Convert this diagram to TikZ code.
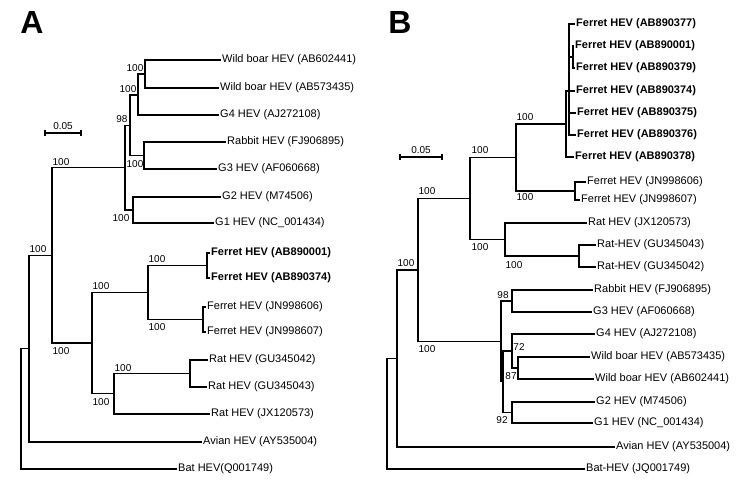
\documentclass[tikz,border=0pt]{standalone}
\usepackage{fontspec}
\setmainfont{Liberation Sans}
\begin{document}
\begin{tikzpicture}[x=1pt,y=-1pt,
  br/.style={line width=1.3pt, line cap=rect},
  tip/.style={anchor=west, inner sep=0pt, inner xsep=1.5pt, font=\fontsize{11}{13}\selectfont},
  tipb/.style={tip, font=\fontsize{11}{13}\selectfont\bfseries},
  bs/.style={inner sep=0pt, font=\fontsize{10}{12}\selectfont},
  panel/.style={inner sep=0pt, font=\fontsize{32}{32}\selectfont\bfseries}]
\useasboundingbox (0,0) rectangle (750,499);

% ---------------- Panel A ----------------
\node[panel] (pA) at (32,22) {A};
\coordinate (sa1) at (45,133); \coordinate (sa2) at (81,133);
\draw[line width=1.1pt] (sa1) -- (sa2);
\draw[line width=1.1pt] ([yshift=3pt]sa1) -- ([yshift=-3pt]sa1);
\draw[line width=1.1pt] ([yshift=3pt]sa2) -- ([yshift=-3pt]sa2);
\node[bs] (sla) at (63,126) {0.05};

\node[tip] (awb1) at (220.5,60) {Wild boar HEV (AB602441)};
\node[tip] (awb2) at (218.5,88) {Wild boar HEV (AB573435)};
\node[tip] (ag4) at (218.5,115) {G4 HEV (AJ272108)};
\node[tip] (arab) at (225.5,142) {Rabbit HEV (FJ906895)};
\node[tip] (ag3) at (216.5,169) {G3 HEV (AF060668)};
\node[tip] (ag2) at (220.5,197) {G2 HEV (M74506)};
\node[tip] (ag1) at (213.5,223) {G1 HEV (NC\_001434)};
\node[tipb] (afb1) at (209.5,253) {Ferret HEV (AB890001)};
\node[tipb] (afb2) at (209.5,278) {Ferret HEV (AB890374)};
\node[tip] (afj1) at (205.5,307) {Ferret HEV (JN998606)};
\node[tip] (afj2) at (205.5,332) {Ferret HEV (JN998607)};
\node[tip] (arg1) at (207.5,360) {Rat HEV (GU345042)};
\node[tip] (arg2) at (206.5,387) {Rat HEV (GU345043)};
\node[tip] (arjx) at (209.5,414) {Rat HEV (JX120573)};
\node[tip] (aav) at (201.5,442) {Avian HEV (AY535004)};
\node[tip] (abat) at (176.5,469) {Bat HEV(Q001749)};

\coordinate (a145) at (145,74);
\coordinate (a138) at (138,95);
\coordinate (a144) at (144,155.5);
\coordinate (a130) at (130,125.25);
\coordinate (a133) at (133,210);
\coordinate (a125) at (125,167.6);
\coordinate (a207) at (207,265.5);
\coordinate (a203) at (203,319.5);
\coordinate (a148) at (148,292.5);
\coordinate (a190) at (190,373.5);
\coordinate (a114) at (114,393.75);
\coordinate (a92) at (92,343.1);
\coordinate (a52) at (52,255.4);
\coordinate (a29) at (29,348.7);
\coordinate (a21) at (21,408.85);

\draw[br] (awb1.west) -| (a145) |- (awb2.west);
\draw[br] (a145) -| (a138) |- (ag4.west);
\draw[br] (arab.west) -| (a144) |- (ag3.west);
\draw[br] (a138) -| (a130) |- (a144);
\draw[br] (ag2.west) -| (a133) |- (ag1.west);
\draw[br] (a130) -| (a125) |- (a133);
\draw[br] (afb1.west) -| (a207) |- (afb2.west);
\draw[br] (afj1.west) -| (a203) |- (afj2.west);
\draw[br] (a207) -| (a148) |- (a203);
\draw[br] (arg1.west) -| (a190) |- (arg2.west);
\draw[br] (a190) -| (a114) |- (arjx.west);
\draw[br] (a148) -| (a92) |- (a114);
\draw[br] (a125) -| (a52) |- (a92);
\draw[br] (a52) -| (a29) |- (aav.west);
\draw[br] (a29) -| (a21) |- (abat.west);

\node[bs] (la1) at (135,68) {100};
\node[bs] (la2) at (128,89) {100};
\node[bs] (la3) at (122,119) {98};
\node[bs] (la4) at (135,164) {100};
\node[bs] (la5) at (121,218) {100};
\node[bs] (la6) at (61,162) {100};
\node[bs] (la7) at (38,249) {100};
\node[bs] (la8) at (61,351) {100};
\node[bs] (la9) at (101,286) {100};
\node[bs] (la10) at (157,259) {100};
\node[bs] (la11) at (157,327) {100};
\node[bs] (la12) at (123,368) {100};
\node[bs] (la13) at (101,402) {100};

% ---------------- Panel B ----------------
\node[panel] (pB) at (400,22) {B};
\coordinate (sb1) at (400,157); \coordinate (sb2) at (442,157);
\draw[line width=1.1pt] (sb1) -- (sb2);
\draw[line width=1.1pt] ([yshift=3pt]sb1) -- ([yshift=-3pt]sb1);
\draw[line width=1.1pt] ([yshift=3pt]sb2) -- ([yshift=-3pt]sb2);
\node[bs] (slb) at (421,150) {0.05};

\node[tipb] (bf377) at (574.5,24) {Ferret HEV (AB890377)};
\node[tipb] (bf001) at (573.5,46) {Ferret HEV (AB890001)};
\node[tipb] (bf379) at (574.5,68) {Ferret HEV (AB890379)};
\node[tipb] (bf374) at (574.5,91) {Ferret HEV (AB890374)};
\node[tipb] (bf375) at (575.5,113) {Ferret HEV (AB890375)};
\node[tipb] (bf376) at (575.5,135) {Ferret HEV (AB890376)};
\node[tipb] (bf378) at (573.5,157) {Ferret HEV (AB890378)};
\node[tip] (bjn1) at (585.5,182) {Ferret HEV (JN998606)};
\node[tip] (bjn2) at (579.5,200) {Ferret HEV (JN998607)};
\node[tip] (brjx) at (586.5,223) {Rat HEV (JX120573)};
\node[tip] (brg3) at (595.5,245) {Rat-HEV (GU345043)};
\node[tip] (brg2) at (595.5,267) {Rat-HEV (GU345042)};
\node[tip] (brab) at (592.5,290) {Rabbit HEV (FJ906895)};
\node[tip] (bg3) at (591.5,312) {G3 HEV (AF060668)};
\node[tip] (bg4) at (594.5,334) {G4 HEV (AJ272108)};
\node[tip] (bwb1) at (589.5,357) {Wild boar HEV (AB573435)};
\node[tip] (bwb2) at (593.5,379) {Wild boar HEV (AB602441)};
\node[tip] (bg2) at (594.5,402) {G2 HEV (M74506)};
\node[tip] (bg1) at (592.5,423) {G1 HEV (NC\_001434)};
\node[tip] (bav) at (614.5,447) {Avian HEV (AY535004)};
\node[tip] (bbat) at (584.5,469) {Bat-HEV (JQ001749)};

\coordinate (bF2) at (573,57);
\coordinate (bF1) at (569,91);
\coordinate (bF0) at (566,124);
\coordinate (bJN) at (575,191);
\coordinate (b516) at (516,157.5);
\coordinate (b579) at (579,256);
\coordinate (b505) at (505,239.5);
\coordinate (b470) at (470,198.5);
\coordinate (b512a) at (512,301);
\coordinate (b518) at (518,368);
\coordinate (b512b) at (512,351);
\coordinate (b512c) at (512,412.5);
\coordinate (b503) at (503,381.75);
\coordinate (b501) at (501,341.4);
\coordinate (b418) at (418,269.95);
\coordinate (b397) at (397,358.5);
\coordinate (b387) at (387,413.75);

\draw[br] (bf001.west) -| (bF2) |- (bf379.west);
\draw[br] (bf377.west) -| (bF1) |- (bf376.west);
\draw[br] (bF1) |- (bF2);
\draw[br] (bF1) |- (bf374.west);
\draw[br] (bF1) |- (bf375.west);
\draw[br] (bF1) -| (bF0) |- (bf378.west);
\draw[br] (bjn1.west) -| (bJN) |- (bjn2.west);
\draw[br] (bF0) -| (b516) |- (bJN);
\draw[br] (brg3.west) -| (b579) |- (brg2.west);
\draw[br] (brjx.west) -| (b505) |- (b579);
\draw[br] (b516) -| (b470) |- (b505);
\draw[br] (brab.west) -| (b512a) |- (bg3.west);
\draw[br] (bwb1.west) -| (b518) |- (bwb2.west);
\draw[br] (bg4.west) -| (b512b) |- (b518);
\draw[br] (bg2.west) -| (b512c) |- (bg1.west);
\draw[br] (b512b) -| (b503) |- (b512c);
\draw[br] (b512a) -| (b501) |- (b503);
\draw[br] (b470) -| (b418) |- (b501);
\draw[br] (b418) -| (b397) |- (bav.west);
\draw[br] (b397) -| (b387) |- (bbat.west);

\node[bs] (lb1) at (406,263) {100};
\node[bs] (lb2) at (427,191) {100};
\node[bs] (lb3) at (427,349) {100};
\node[bs] (lb4) at (480,150) {100};
\node[bs] (lb5) at (480,247) {100};
\node[bs] (lb6) at (525,117) {100};
\node[bs] (lb7) at (525,197) {100};
\node[bs] (lb8) at (514,265) {100};
\node[bs] (lb9) at (503,295) {98};
\node[bs] (lb10) at (519,347) {72};
\node[bs] (lb11) at (511,376) {87};
\node[bs] (lb12) at (502,420) {92};
\end{tikzpicture}
\end{document}
